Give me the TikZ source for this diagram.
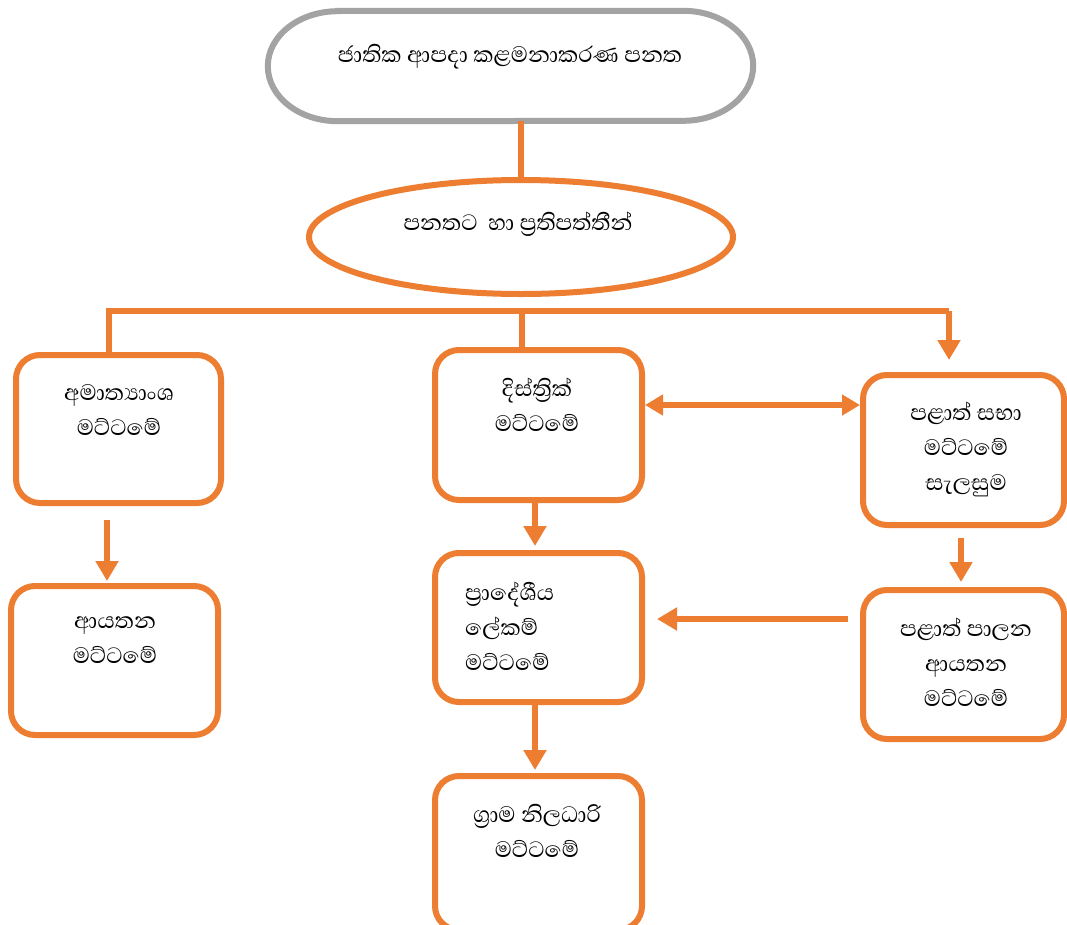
\documentclass[tikz,border=0pt]{standalone}
\usepackage{fontspec}
\newfontfamily\sinhalafont[Script=Sinhala]{Abhaya Libre}
\usetikzlibrary{arrows.meta,shapes.geometric}
\definecolor{orng}{HTML}{ED7D31}
\definecolor{gry}{HTML}{A3A3A3}
\tikzset{
  boxnode/.style={draw=orng, line width=6pt, rounded corners=24pt, inner sep=0pt, fill=white},
  lbl/.style={font=\sinhalafont\fontsize{28.5}{35}\selectfont, align=center, inner sep=0pt},
  ln/.style={draw=orng, line width=6pt},
  arr/.style={ln, -{Triangle[length=20pt,width=22pt]}},
  darr/.style={ln, {Triangle[length=18pt,width=20pt]}-{Triangle[length=18pt,width=20pt]}},
}
\begin{document}
\begin{tikzpicture}[x=1pt,y=-1pt]
\useasboundingbox (0,0) rectangle (1067,924);
\clip (0,0) rectangle (1067,924);
\fill[white] (0,0) rectangle (1067,924);
% top stadium
\node[minimum width=485pt, minimum height=110pt, inner sep=0pt] (top) at (510.5,66) {};
\draw[gry, line width=6pt] ([xshift=70pt]top.north west) -- ([xshift=-70pt]top.north east)
  arc[start angle=90, end angle=-90, x radius=70pt, y radius=55pt]
  -- ([xshift=70pt]top.south west)
  arc[start angle=270, end angle=90, x radius=70pt, y radius=55pt] -- cycle;
\node[lbl] (ttop) at (510,57) {ජාතික ආපදා කළමනාකරණ පනත};
% ellipse
\node[ellipse, draw=orng, line width=6pt, minimum width=424pt, minimum height=114pt, inner sep=0pt] (ell) at (521,237) {};
\node[lbl] (tell) at (518,224) {පනතට\ \ හා ප්‍රතිපත්තීන්};
% boxes
\node[boxnode, minimum width=205pt, minimum height=148pt] (b1) at (118.5,429) {};
\node[boxnode, minimum width=207pt, minimum height=150pt] (b2) at (538.5,425) {};
\node[boxnode, minimum width=201pt, minimum height=150pt] (b3) at (963.5,450) {};
\node[boxnode, minimum width=207pt, minimum height=149pt] (b4) at (114.5,660.5) {};
\node[boxnode, minimum width=207pt, minimum height=149pt] (b5) at (538.5,627.5) {};
\node[boxnode, minimum width=201pt, minimum height=149pt] (b6) at (963.5,664.5) {};
\node[boxnode, minimum width=207pt, minimum height=154pt] (b7) at (538.5,853) {};
% labels
\node[lbl] (t1) at (119,410) {අමාත්‍යාංශ\\මට්ටමේ};
\node[lbl] (t2) at (537,405) {දිස්ත්‍රික්\\මට්ටමේ};
\node[lbl] (t3) at (966,449) {පළාත් සභා\\මට්ටමේ\\සැලසුම};
\node[lbl] (t4) at (115,640) {ආයතන\\මට්ටමේ};
\node[lbl, align=left, anchor=west] (t5) at (465,626) {ප්‍රාදේශීය\\ලේකම්\\මට්ටමේ};
\node[lbl] (t6) at (966,662) {පළාත් පාලන\\ආයතන\\මට්ටමේ};
\node[lbl] (t7) at (537,831) {ග්‍රාම නිලධාරි\\මට්ටමේ};
% connectors
\draw[ln] (ell.north |- top.south) -- (ell.north);
\coordinate (busL) at (109,311);
\coordinate (busC) at (522,311);
\coordinate (busR) at (949,311);
\draw[ln] (busL |- b1.north) -- (busL) -- (busR);
\draw[ln] (busC) -- (busC |- b2.north);
\draw[arr, shorten >=12pt] (busR) -- (busR |- b3.north);
\coordinate (dy) at (0,405);
\draw[darr] (b2.east |- dy) -- (b3.west |- dy);
\coordinate (ax1) at (107,0);
\draw[arr, shorten <=14pt, shorten >=2pt] (ax1 |- b1.south) -- (ax1 |- b4.north);
\coordinate (ax2) at (535,0);
\draw[arr, shorten >=4pt] (ax2 |- b2.south) -- (ax2 |- b5.north);
\draw[arr, shorten >=3pt] (ax2 |- b5.south) -- (ax2 |- b7.north);
\coordinate (ax3) at (961,0);
\draw[arr, shorten <=10pt, shorten >=5pt] (ax3 |- b3.south) -- (ax3 |- b6.north);
\coordinate (ly) at (0,619);
\draw[arr, shorten <=12pt, shorten >=12pt] (b6.west |- ly) -- (b5.east |- ly);
\end{tikzpicture}
\end{document}
